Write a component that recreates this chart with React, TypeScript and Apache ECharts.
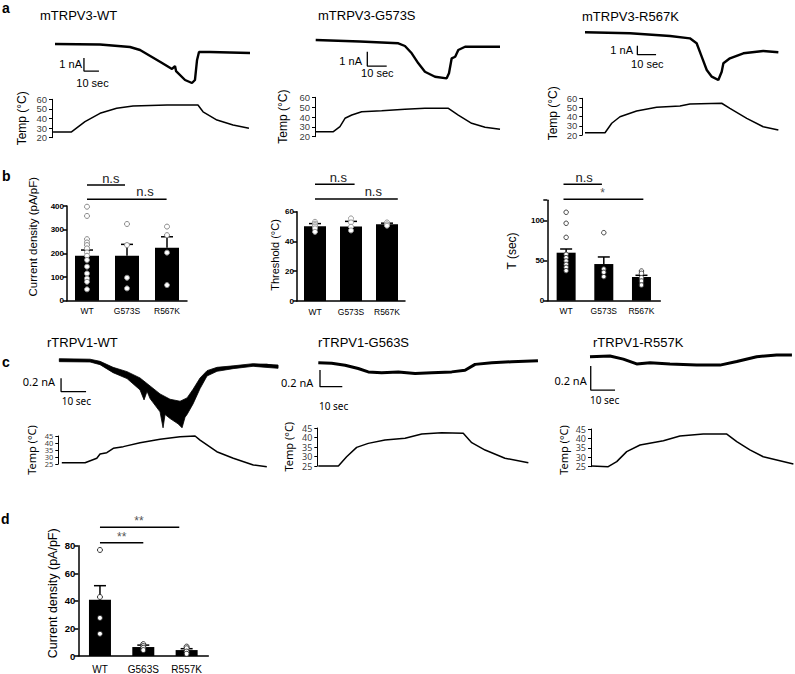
import React, { useEffect, useRef } from 'react';
import * as echarts from 'echarts';

const FONT = "'Liberation Sans', Arial, Helvetica, sans-serif";
const FONT_C = "'Liberation Sans Narrow', 'Noto Sans', 'Liberation Sans', sans-serif";

// ---------- Panel a: mTRPV3 traces (time in s, current in nA, temperature in °C) ----------
const aTempTicks = [20, 30, 40, 50, 60];
const aWtCurrent = [[0, 0], [30, -0.04], [50, -0.23], [56.7, -0.46], [70, -1.36], [78, -1.92], [80, -1.7], [80.7, -2.08], [86.7, -2.77], [91.3, -3.0], [93.3, -2.77], [94.7, -1.23], [96, -0.62], [103.3, -0.62], [130, -0.69]];
const aWtTemp = [[-1.3, 26], [11, 26], [20, 36.7], [30, 45.4], [41.1, 50.6], [52, 53], [74.7, 54], [95.3, 54], [98.7, 47], [108, 38.4], [118.7, 33.2], [129.3, 29.8]];
const aWtScale = [[19.3, -1.08], [19.3, -2.08], [29.3, -2.08]];

const aG573SCurrent = [[0, 0], [22.8, -0.1], [42.6, -0.23], [46, -0.42], [49.5, -0.93], [52.9, -1.63], [56.3, -2.22], [61.5, -2.57], [67.5, -2.68], [68.7, -2.33], [70.1, -1.28], [71.9, -1.17], [73.5, -0.7], [77, -0.47], [85.6, -0.47], [95, -0.47]];
const aG573STemp = [[-0.3, 25.1], [9.1, 25.1], [12.5, 30.2], [15.1, 38.7], [18.6, 42], [23.7, 45.4], [34, 46.4], [46, 47.8], [56.3, 48.8], [68.4, 48.8], [73.5, 42], [80.4, 33.6], [87.3, 29.5], [95, 27.5]];
const aG573SScale = [[26.6, -0.82], [26.6, -1.82], [36.6, -1.82]];

const aR567KCurrent = [[0, 0], [24.1, -0.11], [45.5, -0.41], [56.1, -0.67], [59.7, -1.22], [62.4, -2.71], [65.1, -4.19], [67.8, -4.93], [71.3, -5.3], [73.1, -4.38], [74, -3.44], [77.5, -2.89], [84.7, -2.33], [95.3, -2.08], [103.4, -2.22]];
const aR567KTemp = [[0, 22.5], [10.7, 22.5], [14.3, 32.8], [18.7, 39.9], [27.6, 46.2], [38.3, 50.2], [50.8, 51.6], [56.1, 53.8], [73.1, 54.6], [77.5, 49.1], [86.5, 38.2], [95.3, 29], [103.4, 25.4]];
const aR567KScale = [[28, -1.49], [28, -2.49], [38, -2.49]];

// ---------- Panel c: rTRPV1 traces ----------
const cTempTicks = [25, 30, 35, 40, 45];
const cWtCurrent = [[0, 0], [6.3, 0.005], [12.3, -0.01], [16.3, -0.05], [21.6, -0.15], [27, -0.23], [32.3, -0.35], [36.3, -0.5], [40.3, -0.65], [44.3, -0.75], [48.3, -0.78], [51, -0.7], [53.6, -0.55], [56.3, -0.35], [59, -0.2], [63, -0.14], [69.6, -0.11], [77.6, -0.075], [83, -0.065], [87.5, -0.1]];
const cWtUpper = [[0, 0.02], [12.3, 0.012], [16.3, -0.02], [21.5, -0.11], [27.1, -0.175], [32.3, -0.27], [36.3, -0.39], [40.3, -0.51], [44.3, -0.59], [48.3, -0.62], [51.1, -0.57], [53.5, -0.44], [56.3, -0.27], [59.1, -0.16], [63.1, -0.11], [69.5, -0.088], [77.5, -0.055], [87.5, -0.075]];
const cWtLower = [[0, -0.025], [12.3, -0.03], [16.3, -0.07], [21.5, -0.19], [27.1, -0.28], [32.3, -0.45], [33.9, -0.6], [35.1, -0.47], [36.3, -0.58], [40.3, -0.78], [41.5, -1.02], [42.3, -0.82], [44.3, -0.88], [47.5, -0.96], [49.1, -1.02], [50.3, -0.86], [51.1, -0.82], [53.5, -0.66], [56.3, -0.43], [59.1, -0.24], [63.1, -0.17], [69.5, -0.13], [77.5, -0.095], [87.5, -0.125]];
const cWtTemp = [[1, 25.9], [10.3, 25.9], [15, 29.1], [16.3, 32.1], [19, 33.1], [21.6, 36.2], [25.6, 37.4], [32.3, 40.2], [40.3, 42.6], [48.3, 44.5], [54.3, 45], [56.3, 42.1], [63, 33.8], [69.6, 29.1], [77.6, 24.3], [83, 23.1]];
const cWtScale = [[0.7, -0.275], [0.7, -0.475], [10.7, -0.475]];

const cG563SCurrent = [[0, 0], [6, -0.007], [12, -0.03], [17.9, -0.07], [22.4, -0.11], [28.4, -0.12], [35.9, -0.11], [43.4, -0.13], [50.9, -0.12], [59.8, -0.11], [65.8, -0.09], [70.3, -0.02], [77.8, 0], [86.7, 0.012], [98.5, 0.024]];
const cG563STemp = [[0, 25], [9, 25], [12.7, 29.9], [17.2, 34.8], [22.4, 36.9], [29.9, 38.7], [38.9, 39.6], [46.4, 41.8], [55.3, 42.5], [65, 42.2], [68.8, 37.3], [74.8, 33.4], [83.7, 29.1], [94.2, 26.7]];
const cG563SScale = [[0.76, -0.087], [0.76, -0.287], [10.76, -0.287]];

const cR557KCurrent = [[0, 0], [8.2, 0.006], [13.7, -0.02], [19.2, -0.06], [24.7, -0.05], [32.9, -0.06], [43.9, -0.07], [53.5, -0.07], [60.4, -0.04], [68.6, 0], [76.8, 0.014], [83.1, 0.014]];
const cR557KTemp = [[0.7, 25.4], [7.5, 25], [11, 27.7], [15.1, 33], [20.6, 36.5], [30.2, 38.8], [37, 41.3], [46.6, 42.3], [56.3, 42.3], [60.4, 38.3], [65.8, 33.9], [71.3, 30.3], [83.7, 26.4]];
const cR557KScale = [[0.3, -0.078], [0.3, -0.278], [10.3, -0.278]];

// ---------- Panel b: mTRPV3 summaries ----------
const bCategories = ['WT', 'G573S', 'R567K'];
const b1Mean = [190, 190, 224];
const b1Sem = [24, 48, 46];
const b1Points = [[397, 358, 260, 246, 235, 221, 204, 190, 172, 144, 115, 94, 80, 48], [324, 235, 97, 52], [313, 277, 203, 66]];
const b1Brackets = [[[0, 488.7], [0.95, 488.7]], [[0, 428.3], [1.99, 428.3]]];

const b2Mean = [50.3, 50, 51.5];
const b2Sem = [1.7, 3.5, 0.8];
const b2Points = [[53.2, 52, 51, 50, 48.8, 46.5], [55.5, 52.8, 49.9, 47.4], [52.8, 51.5, 50.6]];
const b2Brackets = [[[0, 78.4], [1.1, 78.4]], [[0, 68.5], [2.3, 68.5]]];

const b3Mean = [59.7, 45.6, 29.5];
const b3Sem = [4.6, 8.8, 2.1];
const b3Points = [[110, 96.3, 78.8, 57.7, 53.5, 49.4, 45.2, 41.5, 37.3], [84.6, 39.4, 35.3, 29.9], [36.9, 34, 28.6, 24.5, 19.5]];
const b3Brackets = [[[-0.07, 144.8], [0.95, 144.8]], [[-0.07, 126.1], [2.05, 126.1]]];

// ---------- Panel d: rTRPV1 summary ----------
const dCategories = ['WT', 'G563S', 'R557K'];
const dMean = [40.8, 6.5, 4.3];
const dSem = [10.2, 1.4, 1.0];
const dPoints = [[76.9, 42.8, 27.6, 16.1], [8.6, 7.2, 5.9, 4.3], [6.8, 5.6, 3.2, 1.6]];
const dBrackets = [[[0, 93.3], [1.83, 93.3]], [[0, 82.2], [1.0, 82.2]]];

function buildOption() {
  const grids: any[] = [];
  const xAxes: any[] = [];
  const yAxes: any[] = [];
  const series: any[] = [];

  function addTrace(L: any, current: number[][], temp: number[][], scale: number[][], ticks: number[], opt: any) {
    const gi = grids.length;
    grids.push({ left: L.x0, top: L.y0 - L.curMax * L.ppn, width: L.tMax * L.pps, height: (L.curMax - L.curMin) * L.ppn });
    xAxes.push({ gridIndex: gi, type: 'value', min: 0, max: L.tMax, show: false });
    yAxes.push({ gridIndex: gi, type: 'value', min: L.curMin, max: L.curMax, show: false });
    const cx = xAxes.length - 1;
    const cy = yAxes.length - 1;
    series.push({ type: 'line', xAxisIndex: cx, yAxisIndex: cy, data: current, symbol: 'none', clip: false, lineStyle: { color: '#000', width: opt.curWidth }, z: 3 });
    series.push({ type: 'line', xAxisIndex: cx, yAxisIndex: cy, data: scale, symbol: 'none', clip: false, lineStyle: { color: '#000', width: 1.3 }, z: 3 });

    const tmin = (L.tempAxisX - L.x0) / L.pps;
    const h = L.tempBottom - L.tempTop;
    const step = h / ((L.tempMax - L.tempMin) / L.tempInterval);
    grids.push({ left: L.tempAxisX, top: L.tempTop, width: (L.tMax - tmin) * L.pps, height: h });
    xAxes.push({ gridIndex: gi + 1, type: 'value', min: tmin, max: L.tMax, show: false });
    yAxes.push({
      gridIndex: gi + 1, type: 'value', min: L.tempMin, max: L.tempMax, interval: L.tempInterval,
      axisLine: { show: true, onZero: false, lineStyle: { color: '#000', width: 1 } },
      axisTick: { show: true, length: 3, lineStyle: { color: '#000', width: 1 } },
      splitLine: { show: false },
      axisLabel: { show: false },
    });
    const tx = xAxes.length - 1;
    const ty = yAxes.length - 1;
    series.push({ type: 'line', xAxisIndex: tx, yAxisIndex: ty, data: temp, symbol: 'none', clip: false, lineStyle: { color: '#000', width: 1.5 }, z: 3 });
    // tick labels placed through the temperature scale
    series.push({
      type: 'scatter', xAxisIndex: tx, yAxisIndex: ty, silent: true, symbolSize: 0, clip: false,
      data: ticks.map((v) => [tmin, v]),
      label: { show: true, position: 'left', distance: 5, color: '#000', fontSize: opt.tickSize, lineHeight: Math.max(5, step - 0.5), fontFamily: opt.family, formatter: (p: any) => String(p.value[1]) },
      z: 4,
    });
    return { cx, cy };
  }

  function addBars(B: any, cats: string[], means: number[], sems: number[], points: number[][], brackets: number[][][]) {
    const gi = grids.length;
    grids.push({ left: B.left, top: B.top, width: B.width, height: B.height });
    xAxes.push({
      gridIndex: gi, type: 'category', data: cats,
      axisLine: { onZero: false, lineStyle: { color: '#000', width: 1.5 } },
      axisTick: { show: false },
      axisLabel: { color: '#000', fontSize: B.xFont, margin: B.xMargin, fontFamily: FONT, interval: 0 },
    });
    const xc = xAxes.length - 1;
    xAxes.push({ gridIndex: gi, type: 'value', min: -0.5, max: 2.5, show: false });
    const xv = xAxes.length - 1;
    yAxes.push({
      gridIndex: gi, type: 'value', min: 0, max: B.max, interval: B.interval,
      axisLine: { show: true, onZero: false, lineStyle: { color: '#000', width: 1.5 } },
      axisTick: { show: true, length: 4, lineStyle: { color: '#000', width: 1.5 } },
      splitLine: { show: false },
      axisLabel: { color: '#000', fontWeight: 'bold', fontSize: B.yFont, margin: 3, fontFamily: FONT, showMinLabel: true, hideOverlap: false, formatter: (v: number) => (v % B.interval === 0 ? String(v) : '') },
    });
    const y = yAxes.length - 1;
    series.push({ type: 'bar', xAxisIndex: xc, yAxisIndex: y, data: means, barWidth: B.barWidth, itemStyle: { color: '#000' }, z: 2 });
    series.push({
      type: 'custom', xAxisIndex: xc, yAxisIndex: y, z: 3,
      data: means.map((m, i) => [i, m, m + sems[i]]),
      renderItem: (params: any, api: any) => {
        const i = api.value(0);
        const p1 = api.coord([i, api.value(1)]);
        const p2 = api.coord([i, api.value(2)]);
        const hw = B.cap;
        return {
          type: 'group',
          children: [
            { type: 'line', shape: { x1: p1[0], y1: p1[1], x2: p2[0], y2: p2[1] }, style: { stroke: '#000', lineWidth: 1.5 } },
            { type: 'line', shape: { x1: p2[0] - hw, y1: p2[1], x2: p2[0] + hw, y2: p2[1] }, style: { stroke: '#000', lineWidth: 1.5 } },
          ],
        };
      },
    });
    const pts: number[][] = [];
    points.forEach((arr, i) => arr.forEach((v) => pts.push([i, v])));
    series.push({ type: 'scatter', xAxisIndex: xc, yAxisIndex: y, data: pts, symbolSize: B.ptSize, itemStyle: { color: '#fff', borderColor: B.ptBorder, borderWidth: 1, opacity: 1 }, z: 4 });
    brackets.forEach((b) => series.push({ type: 'line', xAxisIndex: xv, yAxisIndex: y, data: b, symbol: 'none', clip: false, lineStyle: { color: '#000', width: 1.5 }, z: 5 }));
  }

  const aOpt = { curWidth: 2.4, tickSize: 9.5, family: FONT };
  const cOpt = { curWidth: 3, tickSize: 9, family: FONT_C };

  addTrace({ x0: 55, pps: 1.5, y0: 44, ppn: 13, tMax: 130, curMin: -3.5, curMax: 0.5, tempAxisX: 52, tempTop: 99.3, tempBottom: 137.7, tempMin: 20, tempMax: 60, tempInterval: 10 }, aWtCurrent, aWtTemp, aWtScale, aTempTicks, aOpt);
  addTrace({ x0: 315.7, pps: 1.94, y0: 40, ppn: 14.3, tMax: 95, curMin: -3, curMax: 0.5, tempAxisX: 315, tempTop: 97.3, tempBottom: 136.7, tempMin: 20, tempMax: 60, tempInterval: 10 }, aG573SCurrent, aG573STemp, aG573SScale, aTempTicks, aOpt);
  addTrace({ x0: 585, pps: 1.87, y0: 32.3, ppn: 9, tMax: 104, curMin: -6, curMax: 0.5, tempAxisX: 582.3, tempTop: 98.3, tempBottom: 135, tempMin: 20, tempMax: 60, tempInterval: 10 }, aR567KCurrent, aR567KTemp, aR567KScale, aTempTicks, aOpt);

  const wt = addTrace({ x0: 59.3, pps: 2.5, y0: 360, ppn: 66.5, tMax: 88, curMin: -1.1, curMax: 0.1, tempAxisX: 58.3, tempTop: 436, tempBottom: 464, tempMin: 25, tempMax: 45, tempInterval: 5 }, cWtCurrent, cWtTemp, cWtScale, cTempTicks, { ...cOpt, curWidth: 1.2, tickSize: 7.5 });
  series.push({
    type: 'custom', xAxisIndex: wt.cx, yAxisIndex: wt.cy, z: 3, data: [[0, 0]],
    renderItem: (params: any, api: any) => {
      const pts = cWtUpper.map((p) => api.coord(p)).concat(cWtLower.slice().reverse().map((p) => api.coord(p)));
      return { type: 'polygon', shape: { points: pts }, style: { fill: '#000', stroke: '#000', lineWidth: 0.8 } };
    },
  });
  addTrace({ x0: 318.3, pps: 2.23, y0: 362.7, ppn: 83.5, tMax: 99, curMin: -0.3, curMax: 0.1, tempAxisX: 317.3, tempTop: 428, tempBottom: 466, tempMin: 25, tempMax: 45, tempInterval: 5 }, cG563SCurrent, cG563STemp, cG563SScale, cTempTicks, cOpt);
  addTrace({ x0: 590, pps: 2.43, y0: 356.7, ppn: 120, tMax: 84, curMin: -0.3, curMax: 0.1, tempAxisX: 591, tempTop: 429, tempBottom: 466.7, tempMin: 25, tempMax: 45, tempInterval: 5 }, cR557KCurrent, cR557KTemp, cR557KScale, cTempTicks, cOpt);

  addBars({ left: 67, top: 206, width: 120, height: 94.7, max: 400, interval: 100, barWidth: 24, cap: 6, ptSize: 5, ptBorder: '#8a8a8a', xFont: 8.5, yFont: 8, xMargin: 6 }, bCategories, b1Mean, b1Sem, b1Points, b1Brackets);
  addBars({ left: 297, top: 211.7, width: 108, height: 89.3, max: 60, interval: 20, barWidth: 22, cap: 6, ptSize: 5, ptBorder: '#999', xFont: 8.5, yFont: 8, xMargin: 6 }, bCategories, b2Mean, b2Sem, b2Points, b2Brackets);
  addBars({ left: 547.3, top: 200.2, width: 113, height: 100.5, max: 125, interval: 50, barWidth: 19, cap: 6, ptSize: 4.5, ptBorder: '#444', xFont: 8.5, yFont: 8, xMargin: 6 }, bCategories, b3Mean, b3Sem, b3Points, b3Brackets);
  addBars({ left: 78.3, top: 545.7, width: 130, height: 111, max: 80, interval: 20, barWidth: 22, cap: 6, ptSize: 5, ptBorder: '#333', xFont: 10, yFont: 9.5, xMargin: 8 }, dCategories, dMean, dSem, dPoints, dBrackets);

  const txt = (text: string, x: number, y: number, o: any = {}) => ({
    type: 'text', x, y, rotation: o.rot || 0, z: 10,
    style: { text, fill: o.color || '#000', fontSize: o.size || 12, fontWeight: o.weight || 'normal', fontFamily: o.family || FONT, align: o.align || 'left', verticalAlign: 'middle' },
  });
  const R = Math.PI / 2;
  const graphic = [
    txt('a', 2, 8, { size: 14, weight: 'bold' }),
    txt('b', 2, 176, { size: 14, weight: 'bold' }),
    txt('c', 2, 362, { size: 14, weight: 'bold' }),
    txt('d', 1, 519, { size: 14, weight: 'bold' }),
    txt('mTRPV3-WT', 40, 15, { size: 13 }),
    txt('mTRPV3-G573S', 318, 15, { size: 13 }),
    txt('mTRPV3-R567K', 582, 16, { size: 13 }),
    txt('rTRPV1-WT', 47, 342, { size: 13 }),
    txt('rTRPV1-G563S', 318, 342, { size: 13 }),
    txt('rTRPV1-R557K', 593, 342, { size: 13 }),
    txt('1 nA', 82, 64, { size: 11, align: 'right' }),
    txt('10 sec', 92.5, 83, { size: 11, align: 'center' }),
    txt('1 nA', 362, 61, { size: 11, align: 'right' }),
    txt('10 sec', 377.3, 73, { size: 11, align: 'center' }),
    txt('1 nA', 633, 50, { size: 11, align: 'right' }),
    txt('10 sec', 647.3, 64, { size: 11, align: 'center' }),
    txt('Temp (°C)', 22.3, 118.3, { size: 12, align: 'center', rot: R }),
    txt('Temp (°C)', 283.3, 116.7, { size: 12, align: 'center', rot: R }),
    txt('Temp (°C)', 553.3, 113.3, { size: 12, align: 'center', rot: R }),
    txt('0.2 nA', 55, 381.7, { size: 11, align: 'right', family: FONT_C }),
    txt('10 sec', 61.7, 400.7, { size: 10, family: FONT_C }),
    txt('0.2 nA', 313.3, 382.7, { size: 11, align: 'right', family: FONT_C }),
    txt('10 sec', 319, 405.7, { size: 10, family: FONT_C }),
    txt('0.2 nA', 586.7, 380, { size: 11, align: 'right', family: FONT_C }),
    txt('10 sec', 590, 400, { size: 10, family: FONT_C }),
    txt('Temp (°C)', 31.7, 450, { size: 11, align: 'center', rot: R, family: FONT_C }),
    txt('Temp (°C)', 288.3, 446.7, { size: 11, align: 'center', rot: R, family: FONT_C }),
    txt('Temp (°C)', 563.3, 450, { size: 11, align: 'center', rot: R, family: FONT_C }),
    txt('Current density (pA/pF)', 33.3, 236.7, { size: 11.5, align: 'center', rot: R }),
    txt('Threshold (°C)', 275, 255, { size: 11, align: 'center', rot: R }),
    txt('T (sec)', 511.7, 251, { size: 12, align: 'center', rot: R }),
    txt('Current density (pA/pF)', 53.3, 593.3, { size: 12.5, align: 'center', rot: R }),
    txt('n.s', 110.8, 178, { size: 13, align: 'center', color: '#222' }),
    txt('n.s', 145, 191.7, { size: 13, align: 'center', color: '#222' }),
    txt('n.s', 338.3, 177.7, { size: 13, align: 'center', color: '#222' }),
    txt('n.s', 373.3, 191.7, { size: 13, align: 'center', color: '#222' }),
    txt('n.s', 584.2, 177.7, { size: 13, align: 'center', color: '#222' }),
    txt('*', 602.7, 193, { size: 12, align: 'center', color: '#555' }),
    txt('**', 139, 521, { size: 12, align: 'center', color: '#555' }),
    txt('**', 121.7, 536.5, { size: 12, align: 'center', color: '#555' }),
  ];

  return {
    animation: false,
    backgroundColor: '#fff',
    grid: grids,
    xAxis: xAxes,
    yAxis: yAxes,
    series,
    graphic,
  };
}

export default function App() {
  const ref = useRef<HTMLDivElement>(null);
  useEffect(() => {
    const chart = echarts.init(ref.current as HTMLDivElement, null, { renderer: 'svg' });
    chart.setOption(buildOption() as any);
    return () => chart.dispose();
  }, []);
  return <div ref={ref} style={{ position: 'absolute', left: 0, top: 0, width: 795, height: 674, background: '#fff' }} />;
}
